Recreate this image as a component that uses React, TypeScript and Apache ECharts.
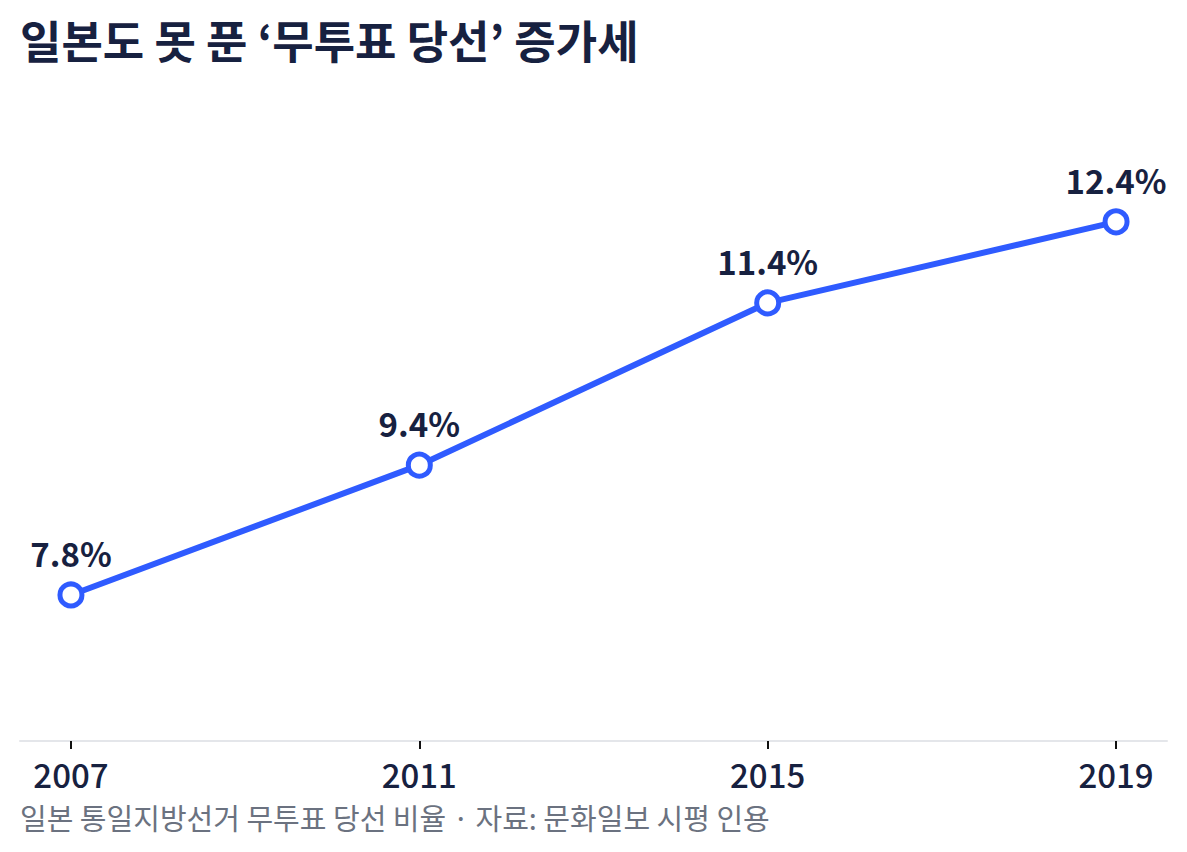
import React, { useEffect, useRef } from "react";
import * as echarts from "echarts";

// Election years and uncontested-win ratios (%)
const years = [2007, 2011, 2015, 2019];
const ratios = [7.8, 9.4, 11.4, 12.4];
const tickYears = [2007, 2011, 2015, 2019];

const titleText = "일본도 못 푼 ‘무투표 당선’ 증가세";
const footerText = "일본 통일지방선거 무투표 당선 비율 · 자료: 문화일보 시평 인용";

const FONT = "'Noto Sans CJK KR', 'Noto Sans', sans-serif";
const NAVY = "#172140";
const BLUE = "#2f5bff";

export default function App() {
  const ref = useRef<HTMLDivElement>(null);

  useEffect(() => {
    if (!ref.current) return;
    const chart = echarts.init(ref.current, null, { renderer: "svg" });
    chart.setOption({
      animation: false,
      backgroundColor: "#ffffff",
      textStyle: { fontFamily: FONT },
      title: {
        text: titleText,
        left: 15,
        top: 12,
        textStyle: { fontFamily: FONT, fontSize: 45, fontWeight: "bold", color: NAVY },
      },
      grid: { left: 20, right: 20, top: 92, bottom: 111, containLabel: false },
      xAxis: {
        type: "value",
        min: 2006.415,
        max: 2019.585,
        splitLine: { show: false },
        axisLine: { show: true, lineStyle: { color: "#e4e6ea", width: 2 } },
        axisTick: {
          show: true,
          length: 8,
          customValues: tickYears,
          lineStyle: { color: "#111111", width: 2 },
        },
        axisLabel: {
          customValues: tickYears,
          margin: 20,
          fontSize: 33,
          lineHeight: 26,
          color: NAVY,
          fontFamily: FONT,
          fontWeight: 500,
          formatter: (v: number) => String(v),
        },
      },
      yAxis: {
        type: "value",
        min: 6,
        max: 14,
        show: false,
        splitLine: { show: false },
      },
      series: [
        {
          type: "line",
          data: years.map((y, i) => [y, ratios[i]]),
          lineStyle: { color: BLUE, width: 6 },
          symbol: "circle",
          symbolSize: 22,
          itemStyle: { color: "#ffffff", borderColor: BLUE, borderWidth: 5 },
          label: {
            show: true,
            position: "top",
            distance: 12,
            fontSize: 33,
            fontWeight: "bold",
            color: NAVY,
            fontFamily: FONT,
            formatter: (p: any) => `${p.value[1].toFixed(1)}%`,
          },
        },
      ],
      graphic: [
        {
          type: "text",
          left: 20,
          top: 802,
          style: {
            text: footerText,
            fontSize: 29,
            lineHeight: 26,
            fill: "#6b7280",
            fontFamily: FONT,
          },
        },
      ],
    });
    return () => chart.dispose();
  }, []);

  return (
    <div
      ref={ref}
      style={{ position: "absolute", left: 0, top: 0, width: 1187, height: 852 }}
    />
  );
}
